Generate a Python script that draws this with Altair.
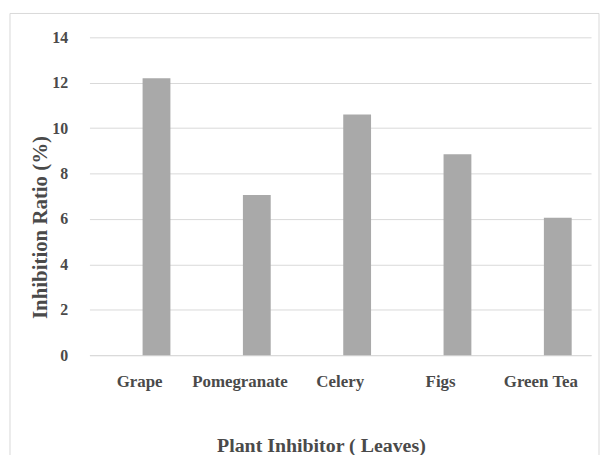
import altair as alt
import pandas as pd

plants = ["Grape", "Pomegranate", "Celery", "Figs", "Green Tea"]
ratios = [12.2, 7.05, 10.6, 8.85, 6.05]
y_ticks = [0, 2, 4, 6, 8, 10, 12, 14]

df = pd.DataFrame({"plant": plants, "ratio": ratios})
frame_df = pd.DataFrame({"k": [0]})

FONT = "Liberation Serif"
TXT = "#4a4a4a"

bars = alt.Chart(df).mark_bar(color="#a9a9a9", width=28, xOffset=17).encode(
    x=alt.X(
        "plant:N",
        sort=plants,
        scale=alt.Scale(paddingInner=0, paddingOuter=0),
        axis=alt.Axis(
            title="Plant Inhibitor ( Leaves)",
            labelAngle=0,
            labelFont=FONT,
            labelFontSize=17,
            labelFontWeight="bold",
            labelColor=TXT,
            labelPadding=19,
            ticks=False,
            domainColor="#d9d9d9",
            titleFont=FONT,
            titleFontSize=20,
            titleFontWeight="bold",
            titleColor=TXT,
            titleX=233,
            titleY=91,
            titleAnchor="middle",
            titleAlign="center",
            titleBaseline="middle",
        ),
    ),
    y=alt.Y(
        "ratio:Q",
        scale=alt.Scale(domain=[0, 14], nice=False),
        axis=alt.Axis(
            title="Inhibition Ratio (%)",
            values=y_ticks,
            labelFont=FONT,
            labelFontSize=16,
            labelFontWeight="bold",
            labelColor=TXT,
            labelPadding=22,
            ticks=False,
            domain=False,
            grid=True,
            gridColor="#d9d9d9",
            gridWidth=1,
            titleFont=FONT,
            titleFontSize=21,
            titleFontWeight="bold",
            titleColor=TXT,
            titleAngle=-90,
            titleX=-49,
            titleY=191,
            titleAlign="center",
            titleBaseline="middle",
        ),
    ),
)

frame = alt.Chart(frame_df).mark_rect(
    fill=None, stroke="#d9d9d9", strokeWidth=1, clip=False
).encode(
    x=alt.value(-80), x2=alt.value(513), y=alt.value(-24), y2=alt.value(440)
)

chart = alt.layer(frame, bars).properties(
    width=505,
    height=320,
    autosize=alt.AutoSizeParams(type="none"),
    padding={"left": 82, "top": 28, "right": 9, "bottom": 99},
    background="white",
).configure_view(stroke=None)

chart.save("out.html", embed_options={"renderer": "svg", "actions": False})
